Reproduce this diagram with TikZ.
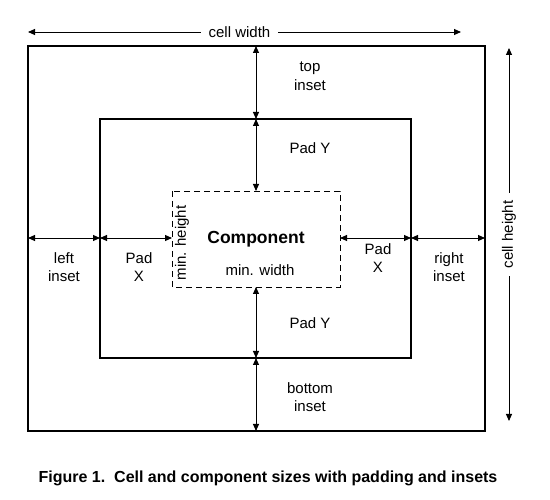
\documentclass[tikz,border=0pt]{standalone}
\usepackage{fontspec}
\setmainfont{Liberation Sans}
\usetikzlibrary{arrows.meta}
\begin{document}
\begin{tikzpicture}[x=1pt,y=-1pt,
  thickbox/.style={draw, line width=2.8pt},
  dashbox/.style={draw, line width=0.9pt, dash pattern=on 6pt off 4pt},
  dim/.style={line width=0.9pt, {Triangle[length=7pt,width=6pt]}-{Triangle[length=7pt,width=6pt]}},
  lbl/.style={font=\fontsize{15}{18.5}\selectfont, align=center, inner sep=0pt},
]
\useasboundingbox (0,0) rectangle (550,500);
% rectangles
\coordinate (o1) at (28,46);  \coordinate (o2) at (485,431);
\coordinate (i1) at (100,119); \coordinate (i2) at (411,358);
\coordinate (c1) at (172,191); \coordinate (c2) at (340,287);
\draw[thickbox] (o1) rectangle (o2);
\draw[thickbox] (i1) rectangle (i2);
\draw[dashbox] (c1) rectangle (c2);
% vertical dimension points
\coordinate (vo1) at (256,46);
\coordinate (vi1) at (256,119);
\coordinate (vc1) at (256,191);
\coordinate (vc2) at (256,287);
\coordinate (vi2) at (256,358);
\coordinate (vo2) at (256,431);
\draw[dim] (vo1) -- (vi1);
\draw[dim] (vi1) -- (vc1);
\draw[dim] (vc2) -- (vi2);
\draw[dim] (vi2) -- (vo2);
% horizontal dimension points
\coordinate (ho1) at (28,238);
\coordinate (hi1) at (100,238);
\coordinate (hc1) at (172,238);
\coordinate (hc2) at (340,238);
\coordinate (hi2) at (411,238);
\coordinate (ho2) at (485,238);
\draw[dim] (ho1) -- (hi1);
\draw[dim] (hi1) -- (hc1);
\draw[dim] (hc2) -- (hi2);
\draw[dim] (hi2) -- (ho2);
% cell width
\coordinate (cw1) at (28,32); \coordinate (cw2) at (461,32);
\draw[dim] (cw1) -- node[lbl, fill=white, inner xsep=8pt, xshift=-5pt] (cwl) {cell width} (cw2);
% cell height
\coordinate (ch1) at (509,48); \coordinate (ch2) at (509,421);
\draw[dim] (ch1) -- node[lbl, fill=white, inner xsep=8pt, rotate=90, yshift=0pt] (chl) {cell height} (ch2);
% labels
\node[lbl] (topl) at (310,76) {top\\inset};
\node[lbl] (pady1) at (310,148) {Pad Y};
\node[lbl] (pady2) at (310,323) {Pad Y};
\node[lbl] (botl) at (310,397) {bottom\\inset};
\node[lbl] (leftl) at (64,267) {left\\inset};
\node[lbl] (padx1) at (139,267) {Pad\\X};
\node[lbl] (padx2) at (378,258) {Pad\\X};
\node[lbl] (rightl) at (449,267) {right\\inset};
\node[lbl, font=\bfseries\fontsize{17.5}{20}\selectfont] (comp) at (256,239) {Component};
\node[lbl] (minw) at (260,270) {min. width};
\node[lbl, rotate=90] (minh) at (182,243) {min. height};
\node[font=\bfseries\fontsize{16}{18}\selectfont, inner sep=0pt] (cap) at (268,478) {Figure 1.\ \ Cell and component sizes with padding and insets};
\end{tikzpicture}
\end{document}
